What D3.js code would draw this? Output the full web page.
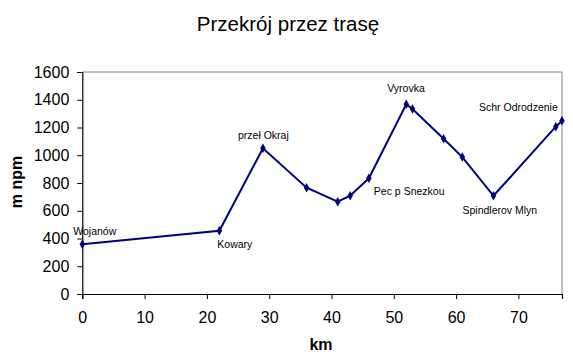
<!DOCTYPE html>
<html><head><meta charset="utf-8">
<script src="https://cdn.jsdelivr.net/npm/d3@7"></script>
<style>body{margin:0;background:#fff}svg{display:block}text{font-family:"Liberation Sans",Arial,sans-serif}</style>
</head><body>
<script>
const km = [0, 22, 29, 36, 41, 43, 46, 52, 53, 58, 61, 66, 76, 77];
const elev = [358, 456, 1050, 766, 665, 708, 834, 1367, 1333, 1119, 987, 708, 1206, 1249];
const placeNames = ["Wojanów", "Kowary", "przeł Okraj", "", "", "", "Pec p Snezkou", "Vyrovka", "", "", "", "Spindlerov Mlyn", "", "Schr Odrodzenie"];
const labelDx = [-9, -2, -25, 0, 0, 0, 5, -19, 0, 0, 0, -31, 0, -83];
const labelDy = [-9, 17, -9, 0, 0, 0, 17, -12, 0, 0, 0, 18, 0, -10];
const xTicks = [0, 10, 20, 30, 40, 50, 60, 70];
const yTicks = [0, 200, 400, 600, 800, 1000, 1200, 1400, 1600];
const title = "Przekrój przez trasę";
const xTitle = "km";
const yTitle = "m npm";

const W = 573, H = 360;
const m = {l: 82.3, r: 573 - 562, t: 72, b: 360 - 294};
const svg = d3.select("body").append("svg").attr("width", W).attr("height", H);
const x = d3.scaleLinear().domain([0, 77]).range([m.l, W - m.r]);
const y = d3.scaleLinear().domain([0, 1600]).range([H - m.b, m.t]);

// plot frame (top/right grey)
svg.append("path")
  .attr("d", `M${x(0)},${y(1600)}H${x(77)}V${y(0)}`)
  .attr("fill", "none").attr("stroke", "#808080").attr("stroke-width", 1);

const ya = svg.append("g").attr("transform", `translate(${x(0)},0)`)
  .call(d3.axisLeft(y).tickValues(yTicks).tickSize(5).tickPadding(8).tickFormat(d3.format("d")));
const xa = svg.append("g").attr("transform", `translate(0,${y(0)})`)
  .call(d3.axisBottom(x).tickValues(xTicks).tickSize(5).tickPadding(13).tickFormat(d3.format("d")));
[ya, xa].forEach(g => {
  g.select(".domain").attr("stroke", "#000").attr("stroke-width", 1.2);
  g.selectAll(".tick line").attr("stroke", "#000");
  g.selectAll(".tick text").attr("font-size", 16).attr("fill", "#000");
});

const pts = km.map((k, i) => ({k, e: elev[i], name: placeNames[i], dx: labelDx[i], dy: labelDy[i]}));
svg.append("path").datum(pts)
  .attr("d", d3.line().x(d => x(d.k)).y(d => y(d.e)))
  .attr("fill", "none").attr("stroke", "#000080").attr("stroke-width", 2);
svg.selectAll(".mk").data(pts).join("path")
  .attr("transform", d => `translate(${x(d.k)},${y(d.e)})`)
  .attr("d", d3.symbol(d3.symbolDiamond, 26))
  .attr("fill", "#000080");
svg.selectAll(".lbl").data(pts.filter(d => d.name)).join("text")
  .attr("x", d => x(d.k) + d.dx).attr("y", d => y(d.e) + d.dy)
  .attr("font-size", 10.5).attr("fill", "#000").text(d => d.name);

svg.append("text").attr("x", 288).attr("y", 31).attr("text-anchor", "middle")
  .attr("font-size", 20.5).text(title);
svg.append("text").attr("x", 321).attr("y", 350).attr("text-anchor", "middle")
  .attr("font-size", 16).attr("font-weight", "bold").text(xTitle);
svg.append("text").attr("transform", "translate(22,182) rotate(-90)").attr("text-anchor", "middle")
  .attr("font-size", 16).attr("font-weight", "bold").text(yTitle);
</script>
</body></html>
